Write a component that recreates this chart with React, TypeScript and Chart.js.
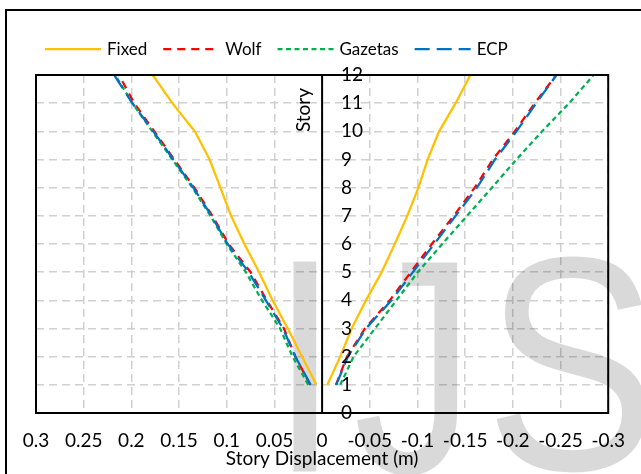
import React, { useEffect, useRef } from "react";
import { Chart, registerables } from "chart.js";

Chart.register(...registerables);

const stories = [1, 2, 3, 4, 5, 6, 7, 8, 9, 10, 11, 12];
const seriesNames = ["Fixed", "Wolf", "Gazetas", "ECP"];

const fixedPos = [0.006, 0.021, 0.036, 0.052, 0.066, 0.0815, 0.0955, 0.1066, 0.118, 0.1335, 0.157, 0.1776];
const fixedNeg = [-0.0055, -0.019, -0.031, -0.046, -0.0624, -0.0762, -0.0893, -0.101, -0.1107, -0.1227, -0.14, -0.1555];
const wolfPos = [0.0125, 0.028, 0.04, 0.058, 0.075, 0.098, 0.115, 0.134, 0.155, 0.176, 0.197, 0.213];
const wolfNeg = [-0.0145, -0.026, -0.045, -0.071, -0.093, -0.115, -0.138, -0.16, -0.179, -0.202, -0.223, -0.2455];
const gazetasPos = [0.0145, 0.031, 0.044, 0.063, 0.08, 0.1, 0.117, 0.136, 0.157, 0.178, 0.199, 0.217];
const gazetasNeg = [-0.019, -0.033, -0.0554, -0.0779, -0.1003, -0.126, -0.152, -0.178, -0.2038, -0.2307, -0.259, -0.2848];
const ecpPos = [0.012, 0.028, 0.041, 0.059, 0.077, 0.099, 0.116, 0.135, 0.156, 0.177, 0.199, 0.218];
const ecpNeg = [-0.0148, -0.027, -0.046, -0.0727, -0.0952, -0.1175, -0.14, -0.1624, -0.1813, -0.2038, -0.2245, -0.2458];

const xMin = -0.3;
const xMax = 0.3;
const xStep = 0.05;
const yMin = 0;
const yMax = 12;
const xTitle = "Story Displacement (m)";
const yTitle = "Story";
const watermark = ["I", "J", "S"];

const FONT = "Lato, 'Open Sans', sans-serif";

function branches(pos: number[], neg: number[]) {
  const pts: { x: number | null; y: number | null }[] = [];
  stories.forEach((s, i) => pts.push({ x: pos[i], y: s }));
  pts.push({ x: null, y: null });
  stories.forEach((s, i) => pts.push({ x: neg[i], y: s }));
  return pts;
}

function drawLetter(ctx: any, ch: string, anchor: number, useRight: boolean, top: number, sx: number) {
  const m = ctx.measureText(ch);
  const base = top + m.actualBoundingBoxAscent;
  const ox = useRight ? anchor - sx * m.actualBoundingBoxRight : anchor + sx * m.actualBoundingBoxLeft;
  ctx.save();
  ctx.translate(ox, base);
  ctx.scale(sx, 1);
  ctx.fillText(ch, 0, 0);
  ctx.restore();
}

const decorPlugin = {
  id: "decor",
  beforeDraw(chart: any) {
    const { ctx, width, height } = chart;
    ctx.save();
    ctx.fillStyle = "#fff";
    ctx.fillRect(0, 0, width, height);
    ctx.strokeStyle = "#000";
    ctx.lineWidth = 2;
    ctx.beginPath();
    ctx.moveTo(6, height + 5);
    ctx.lineTo(6, 10);
    ctx.lineTo(width + 5, 10);
    ctx.stroke();
    ctx.restore();
  },
  beforeDatasetsDraw(chart: any) {
    const { ctx } = chart;
    ctx.save();
    ctx.fillStyle = "rgba(0,0,0,0.15)";
    ctx.font = "305px 'Liberation Sans', Arial, sans-serif";
    ctx.textBaseline = "alphabetic";
    ctx.textAlign = "left";
    drawLetter(ctx, watermark[0], 290, false, 257, 0.8);
    drawLetter(ctx, watermark[1], 460, true, 258, 0.8);
    drawLetter(ctx, watermark[2], 493, false, 255, 0.85);
    ctx.restore();
  },
  afterDatasetsDraw(chart: any) {
    const { ctx, chartArea } = chart;
    const xs = chart.scales.x;
    const ys = chart.scales.y;
    ctx.save();
    ctx.strokeStyle = "#000";
    ctx.lineWidth = 2;
    ctx.strokeRect(chartArea.left, chartArea.top, chartArea.right - chartArea.left, chartArea.bottom - chartArea.top);
    const x0 = xs.getPixelForValue(0);
    ctx.beginPath();
    ctx.moveTo(x0, chartArea.top);
    ctx.lineTo(x0, chartArea.bottom);
    ctx.stroke();
    ctx.fillStyle = "#000";
    ctx.font = `19px ${FONT}`;
    ctx.textAlign = "left";
    ctx.textBaseline = "middle";
    ys.ticks.forEach((t: any) => {
      ctx.fillText(String(t.value), x0 + 19, ys.getPixelForValue(t.value));
    });
    ctx.save();
    ctx.translate(x0 - 18, chartArea.top + 35);
    ctx.rotate(-Math.PI / 2);
    ctx.textAlign = "center";
    ctx.textBaseline = "middle";
    ctx.fillText(yTitle, 0, 0);
    ctx.restore();
    ctx.font = `17px ${FONT}`;
    ctx.textAlign = "left";
    ctx.textBaseline = "middle";
    let lx = 45;
    const ly = 49;
    seriesNames.forEach((name) => {
      const ds = chart.data.datasets.find((d: any) => d.label === name);
      ctx.strokeStyle = ds.borderColor;
      ctx.lineWidth = ds.borderWidth;
      ctx.setLineDash(ds.borderDash || []);
      ctx.beginPath();
      ctx.moveTo(lx, ly);
      ctx.lineTo(lx + 56, ly);
      ctx.stroke();
      ctx.setLineDash([]);
      lx += 56 + 6;
      ctx.fillStyle = "#000";
      ctx.fillText(name, lx, ly + 1);
      lx += ctx.measureText(name).width + 16;
    });
    ctx.restore();
  },
};

export default function App() {
  const ref = useRef<HTMLCanvasElement | null>(null);
  useEffect(() => {
    if (!ref.current) return;
    const chart = new Chart(ref.current, {
      type: "line",
      data: {
        datasets: [
          { label: "Fixed", data: branches(fixedPos, fixedNeg), borderColor: "#FFC000", borderWidth: 2.25, borderDash: [], order: 3 },
          { label: "Wolf", data: branches(wolfPos, wolfNeg), borderColor: "#FF0000", borderWidth: 2.25, borderDash: [8, 6], order: 2 },
          { label: "Gazetas", data: branches(gazetasPos, gazetasNeg), borderColor: "#00B050", borderWidth: 2.25, borderDash: [5, 3.5], order: 1 },
          { label: "ECP", data: branches(ecpPos, ecpNeg), borderColor: "#0070C0", borderWidth: 2.25, borderDash: [15, 7], order: 0 },
        ] as any,
      },
      options: {
        responsive: false,
        animation: false,
        spanGaps: false,
        parsing: { xAxisKey: "x", yAxisKey: "y" } as any,
        elements: { point: { radius: 0 }, line: { tension: 0, fill: false } },
        layout: { padding: { left: 36, right: 25, top: 75, bottom: 0 } },
        plugins: { legend: { display: false }, tooltip: { enabled: false } },
        scales: {
          x: {
            type: "linear",
            min: xMin,
            max: xMax,
            reverse: true,
            afterFit: (s: any) => { s.height = 61; },
            ticks: {
              stepSize: xStep,
              color: "#000",
              padding: 16,
              minRotation: 0,
              maxRotation: 0,
              autoSkip: false,
              font: { family: FONT, size: 19 },
              callback: (v: any) => String(Math.round(Number(v) * 100) / 100),
            },
            grid: { color: "#d0d0d0", lineWidth: 1.5, drawTicks: false },
            border: { display: false, dash: [8, 5] },
            title: { display: true, text: xTitle, color: "#000", font: { family: FONT, size: 19 }, padding: { top: 0, bottom: 4 } },
          },
          y: {
            type: "linear",
            min: yMin,
            max: yMax,
            position: "left",
            afterFit: (s: any) => { s.width = 0; },
            ticks: { stepSize: 1, display: false },
            grid: { color: "#d0d0d0", lineWidth: 1.5, drawTicks: false },
            border: { display: false, dash: [8, 5] },
          },
        },
      },
      plugins: [decorPlugin],
    } as any);
    return () => chart.destroy();
  }, []);
  return (
    <div style={{ position: "absolute", left: 0, top: 0, width: 641, height: 474 }}>
      <canvas ref={ref} width={641} height={474} style={{ display: "block" }} />
    </div>
  );
}
